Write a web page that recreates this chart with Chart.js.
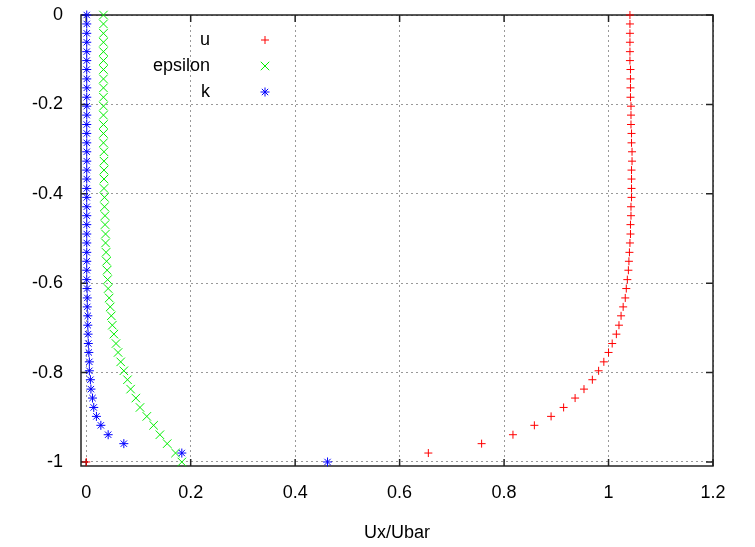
<!DOCTYPE html>
<html>
<head>
<meta charset="utf-8">
<script src="https://cdn.jsdelivr.net/npm/chart.js@4/dist/chart.umd.min.js"></script>
<style>
  html, body { margin: 0; padding: 0; background: #fff; }
  #wrap { width: 755px; height: 547px; position: relative; }
</style>
</head>
<body>
<div id="wrap"><canvas id="profile"></canvas></div>
<script>
  // wall-normal positions, bottom wall (-1) to centreline (0)
  const yPos = [
    -1, -0.98, -0.959, -0.939, -0.918, -0.898, -0.878, -0.857, -0.837, -0.816,
    -0.796, -0.776, -0.755, -0.735, -0.714, -0.694, -0.673, -0.653, -0.633, -0.612,
    -0.592, -0.571, -0.551, -0.531, -0.51, -0.49, -0.469, -0.449, -0.429, -0.408,
    -0.388, -0.367, -0.347, -0.327, -0.306, -0.286, -0.265, -0.245, -0.224, -0.204,
    -0.184, -0.163, -0.143, -0.122, -0.102, -0.082, -0.061, -0.041, -0.02, 0
  ];
  const uVals = [
    0, 0.655, 0.757, 0.817, 0.858, 0.890, 0.914, 0.936, 0.953, 0.969,
    0.981, 0.991, 1.000, 1.007, 1.015, 1.020, 1.024, 1.028, 1.032, 1.034,
    1.036, 1.038, 1.039, 1.040, 1.041, 1.042, 1.042, 1.043, 1.043, 1.044,
    1.044, 1.044, 1.044, 1.045, 1.045, 1.044, 1.044, 1.043, 1.043, 1.043,
    1.042, 1.042, 1.042, 1.042, 1.041, 1.041, 1.041, 1.041, 1.041, 1.041
  ];
  const epsVals = [
    0.183, 0.171, 0.155, 0.141, 0.129, 0.116, 0.103, 0.095, 0.085, 0.079,
    0.072, 0.066, 0.061, 0.057, 0.053, 0.050, 0.048, 0.046, 0.044, 0.042,
    0.041, 0.040, 0.039, 0.038, 0.037, 0.037, 0.036, 0.036, 0.035, 0.035,
    0.034, 0.034, 0.034, 0.034, 0.034, 0.033, 0.033, 0.033, 0.033, 0.033,
    0.033, 0.033, 0.033, 0.033, 0.033, 0.033, 0.033, 0.033, 0.033, 0.033
  ];
  const kVals = [
    0.462, 0.183, 0.072, 0.042, 0.028, 0.0195, 0.0144, 0.012, 0.009, 0.008,
    0.006, 0.006, 0.005, 0.004, 0.0035, 0.003, 0.003, 0.002, 0.002, 0.0016,
    0.001, 0.001, 0.001, 0.001, 0.001, 0.001, 0.001, 0.001, 0.001, 0.001,
    0.001, 0.001, 0.001, 0.001, 0.001, 0.001, 0.001, 0.001, 0.001, 0.001,
    0.001, 0.001, 0.001, 0.001, 0.001, 0.001, 0.001, 0.001, 0.001, 0.001
  ];
  const xTicks = [0, 0.2, 0.4, 0.6, 0.8, 1, 1.2];
  const yTicks = [-1, -0.8, -0.6, -0.4, -0.2, 0];

  const FONT = "'Liberation Sans', Arial, sans-serif";

  function pts(xs) {
    return xs.map((x, i) => ({ x: x, y: yPos[i] }));
  }

  const series = [
    { label: 'u', data: uVals, color: '#ff0000', style: 'cross', r: 4 },
    { label: 'epsilon', data: epsVals, color: '#00ee00', style: 'crossRot', r: 6 },
    { label: 'k', data: kVals, color: '#0000ff', style: 'star', r: 4.5 }
  ];

  // box border with inward tick marks on all four sides
  const frame = {
    id: 'frame',
    beforeDatasetsDraw(chart) {
      const { ctx, chartArea: a, scales } = chart;
      ctx.save();
      ctx.strokeStyle = '#222';
      ctx.lineWidth = 1.5;
      ctx.strokeRect(a.left, a.top, a.right - a.left, a.bottom - a.top);
      const t = 7;
      ctx.beginPath();
      xTicks.forEach(v => {
        const px = scales.x.getPixelForValue(v);
        ctx.moveTo(px, a.bottom); ctx.lineTo(px, a.bottom - t);
        ctx.moveTo(px, a.top); ctx.lineTo(px, a.top + t);
      });
      yTicks.forEach(v => {
        const py = scales.y.getPixelForValue(v);
        ctx.moveTo(a.left, py); ctx.lineTo(a.left + t, py);
        ctx.moveTo(a.right, py); ctx.lineTo(a.right - t, py);
      });
      ctx.stroke();
      ctx.restore();
    }
  };

  // key: right-aligned labels with the sample symbol after them
  const key = {
    id: 'key',
    afterDraw(chart) {
      const ctx = chart.ctx;
      ctx.save();
      ctx.font = '18px ' + FONT;
      ctx.textAlign = 'right';
      ctx.textBaseline = 'middle';
      series.forEach((s, i) => {
        const y = 40 + i * 26;
        ctx.fillStyle = '#000';
        ctx.fillText(s.label, 210, y);
        ctx.strokeStyle = s.color;
        ctx.fillStyle = s.color;
        ctx.lineWidth = 1;
        Chart.helpers.drawPoint(ctx, { pointStyle: s.style, radius: s.r, rotation: 0, borderWidth: 1 }, 265, y);
      });
      ctx.restore();
    }
  };

  new Chart(document.getElementById('profile'), {
    type: 'scatter',
    data: {
      datasets: series.map((s, i) => ({
        label: s.label,
        data: pts(s.data),
        pointStyle: s.style,
        pointRadius: s.r,
        pointHoverRadius: s.r,
        borderColor: s.color,
        backgroundColor: s.color,
        borderWidth: 1,
        showLine: false,
        clip: false,
        order: series.length - i
      }))
    },
    options: {
      responsive: true,
      maintainAspectRatio: false,
      animation: false,
      layout: { padding: { left: 0, top: 15, right: 42, bottom: 0 } },
      plugins: {
        legend: { display: false },
        tooltip: { enabled: false }
      },
      scales: {
        x: {
          type: 'linear',
          min: -0.01,
          max: 1.2,
          afterBuildTicks(scale) { scale.ticks = xTicks.map(v => ({ value: v })); },
          afterFit(scale) {
            scale.height = 81;
            scale.paddingLeft = 0;
            scale.paddingRight = 0;
          },
          ticks: {
            color: '#000',
            font: { family: FONT, size: 18 },
            padding: 16,
            maxRotation: 0,
            callback: v => String(v)
          },
          grid: { color: '#999', lineWidth: 1, drawTicks: false },
          border: { display: false, dash: [2, 3] },
          title: {
            display: true,
            text: 'Ux/Ubar',
            color: '#000',
            font: { family: FONT, size: 18 },
            padding: { top: 0, bottom: 3 }
          }
        },
        y: {
          type: 'linear',
          min: -1.009,
          max: 0,
          afterBuildTicks(scale) { scale.ticks = yTicks.map(v => ({ value: v })); },
          afterFit(scale) {
            scale.width = 81;
            scale.paddingTop = 0;
            scale.paddingBottom = 0;
          },
          ticks: {
            color: '#000',
            font: { family: FONT, size: 18 },
            padding: 18,
            callback: v => String(v)
          },
          grid: { color: '#999', lineWidth: 1, drawTicks: false },
          border: { display: false, dash: [2, 3] }
        }
      }
    },
    plugins: [frame, key]
  });
</script>
</body>
</html>
